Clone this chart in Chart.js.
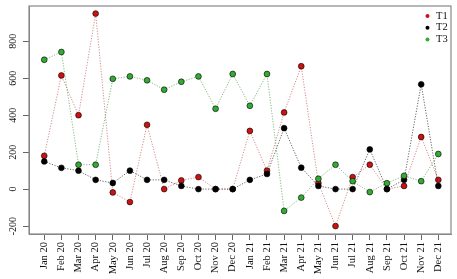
<!DOCTYPE html>
<html>
<head>
<meta charset="utf-8">
<script src="https://cdn.jsdelivr.net/npm/chart.js@4.4.0/dist/chart.umd.min.js"></script>
<style>
html,body{margin:0;padding:0;background:#fff;}
#wrap{width:457px;height:279px;position:relative;}
</style>
</head>
<body>
<div id="wrap"><canvas id="c" width="457" height="279"></canvas></div>
<script>
const categories = ["Jan 20","Feb 20","Mar 20","Apr 20","May 20","Jun 20","Jul 20","Aug 20","Sep 20","Oct 20","Nov 20","Dec 20",
                    "Jan 21","Feb 21","Mar 21","Apr 21","May 21","Jun 21","Jul 21","Aug 21","Sep 21","Oct 21","Nov 21","Dec 21"];
const T1 = [180, 615, 400, 950, -18, -70, 348, 0, 47, 65, 0, 0,
            315, 100, 415, 665, 33, -200, 65, 132, 0, 17, 282, 50];
const T2 = [150, 115, 100, 50, 33, 100, 50, 50, 17, 0, 0, 0,
            50, 82, 330, 116, 17, 0, 0, 215, 0, 50, 567, 17];
const T3 = [700, 742, 132, 132, 597, 610, 589, 538, 581, 610, 435, 623,
            451, 623, -118, -46, 56, 132, 43, -16, 32, 72, 43, 190];
const yTicks = [-200, 0, 200, 400, 600, 800];
const seriesNames = ["T1", "T2", "T3"];

const FONT = "'Liberation Serif', 'Times New Roman', serif";
const pointColors = ["#cc1111", "#000000", "#33aa33"];
const lineColors = ["rgba(200,90,90,0.7)", "rgba(50,50,50,0.75)", "rgba(80,160,80,0.7)"];
const seriesData = [T1, T2, T3];

const datasets = seriesData.map((arr, k) => ({
  label: seriesNames[k],
  data: arr.map((v, i) => ({x: i, y: v})),
  borderColor: lineColors[k],
  borderWidth: 1,
  borderDash: [1.2, 1.5],
  pointRadius: 2.9,
  pointBackgroundColor: pointColors[k],
  pointBorderColor: "#000",
  pointBorderWidth: 0.6,
  fill: false,
  tension: 0,
  order: 3 - k
}));

const decor = {
  id: 'decor',
  afterDraw(chart) {
    const ctx = chart.ctx, a = chart.chartArea, ys = chart.scales.y;
    ctx.save();
    ctx.strokeStyle = "#888";
    ctx.lineWidth = 1.2;
    ctx.strokeRect(a.left, a.top, a.right - a.left, a.bottom - a.top);
    ctx.fillStyle = "#111";
    ctx.font = "10px " + FONT;
    ctx.textAlign = "center";
    ctx.textBaseline = "middle";
    yTicks.forEach(v => {
      const y = ys.getPixelForValue(v);
      ctx.save();
      ctx.translate(13, y);
      ctx.rotate(-Math.PI / 2);
      ctx.fillText(String(v), 0, 0);
      ctx.restore();
    });
    // legend
    ctx.textAlign = "left";
    ctx.font = "10.5px " + FONT;
    seriesNames.forEach((n, k) => {
      const y = 16 + k * 11.7;
      ctx.fillStyle = pointColors[k];
      ctx.beginPath();
      ctx.arc(427.5, y, 2, 0, Math.PI * 2);
      ctx.fill();
      ctx.fillStyle = "#111";
      ctx.fillText(n, 436, y);
    });
    ctx.restore();
  }
};

new Chart(document.getElementById('c'), {
  type: 'line',
  data: { datasets },
  options: {
    responsive: false,
    animation: false,
    layout: { padding: { top: 6, right: 6, left: 0, bottom: 0 } },
    plugins: { legend: { display: false }, tooltip: { enabled: false } },
    scales: {
      x: {
        type: 'linear',
        min: -0.89,
        max: 23.74,
        afterBuildTicks: s => { s.ticks = categories.map((c, i) => ({ value: i })); },
        afterFit: s => { s.height = 45; },
        ticks: {
          autoSkip: false,
          minRotation: 90,
          maxRotation: 90,
          padding: 2,
          color: "#111",
          font: { family: FONT, size: 10.5 },
          callback: v => categories[v]
        },
        grid: { drawOnChartArea: false, drawTicks: true, tickLength: 6, color: "#666" },
        border: { display: true, color: "#888" }
      },
      y: {
        type: 'linear',
        min: -243,
        max: 991,
        afterBuildTicks: s => { s.ticks = yTicks.map(v => ({ value: v })); },
        afterFit: s => { s.width = 29; },
        ticks: { display: false },
        grid: { drawOnChartArea: false, drawTicks: true, tickLength: 6, color: "#666" },
        border: { display: true, color: "#888" }
      }
    }
  },
  plugins: [decor]
});
</script>
</body>
</html>
